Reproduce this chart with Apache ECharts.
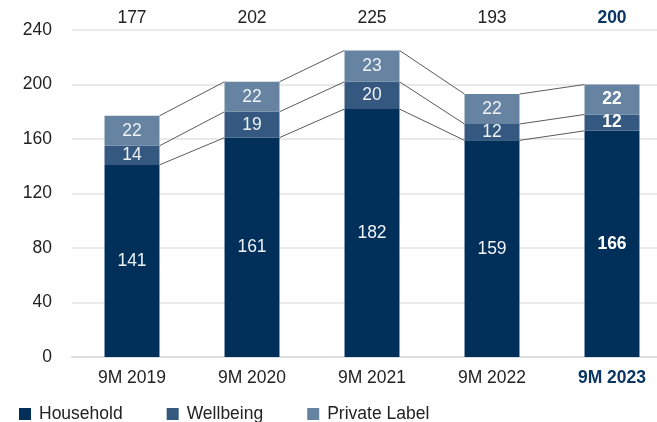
<!DOCTYPE html>
<html>
<head>
<meta charset="utf-8">
<script src="https://cdn.jsdelivr.net/npm/echarts@6/dist/echarts.min.js"></script>
<style>
  html, body { margin: 0; padding: 0; background: #fff; }
  #chart { width: 657px; height: 422px; }
</style>
</head>
<body>
<div id="chart"></div>
<script>
const categories = ["9M 2019", "9M 2020", "9M 2021", "9M 2022", "9M 2023"];
const household = [141, 161, 182, 159, 166];
const wellbeing = [14, 19, 20, 12, 12];
const privateLabel = [22, 22, 23, 22, 22];
const totals = [177, 202, 225, 193, 200];

const navy = "#00305a";
const mid = "#34587f";
const light = "#6684a1";
const font = "Liberation Sans, Arial, sans-serif";
const fs = 17.5;
const last = categories.length - 1;
const barRatio = 55 / 120;

const chart = echarts.init(document.getElementById("chart"));

// cumulative levels for the connector lines between bars
const levels = [
  household,
  household.map((v, i) => v + wellbeing[i]),
  household.map((v, i) => v + wellbeing[i] + privateLabel[i]),
];

function segLabel(i) {
  return {
    show: true,
    position: "inside",
    fontFamily: font,
    fontSize: fs,
    color: i === last ? "#ffffff" : "#eef2f6",
    fontWeight: i === last ? "bold" : "normal",
  };
}

function barSeries(name, values, color) {
  return {
    name,
    type: "bar",
    stack: "total",
    barWidth: "45.8%",
    itemStyle: { color },
    z: 3,
    data: values.map((v, i) => ({ value: v, label: segLabel(i) })),
  };
}

const boldRich = { b: { fontSize: fs, fontWeight: "bold", color: "#0b3563", fontFamily: font } };

const option = {
  animation: false,
  textStyle: { fontFamily: font },
  grid: { left: 72, width: 600, top: 30, bottom: 65, containLabel: false, outerBoundsMode: "none" },
  legend: {
    left: 14,
    top: 400,
    icon: "rect",
    itemWidth: 12,
    itemHeight: 12,
    itemGap: 44,
    textStyle: { fontSize: fs, color: "#222", fontFamily: font, padding: [0, 0, 0, 3] },
    data: ["Household", "Wellbeing", "Private Label"],
  },
  xAxis: [
    {
      type: "category",
      data: categories,
      axisLine: { lineStyle: { color: "#dddddd", width: 2 } },
      axisTick: { show: false },
      axisLabel: {
        interval: 0,
        margin: 12,
        fontSize: fs,
        color: "#222",
        fontFamily: font,
        formatter: (v, i) => (i === last ? "{b|" + v + "}" : v),
        rich: boldRich,
      },
    },
    {
      type: "category",
      position: "top",
      data: totals.map(String),
      axisLine: { show: false },
      axisTick: { show: false },
      axisLabel: {
        interval: 0,
        margin: 3,
        fontSize: fs,
        color: "#222",
        fontFamily: font,
        formatter: (v, i) => (i === last ? "{b|" + v + "}" : v),
        rich: boldRich,
      },
    },
  ],
  yAxis: {
    type: "value",
    min: 0,
    max: 240,
    interval: 40,
    axisLine: { show: false },
    axisTick: { show: false },
    splitLine: { lineStyle: { color: "#e3e3e3", width: 1.5 } },
    axisLabel: { margin: 20, fontSize: fs, color: "#222", fontFamily: font },
  },
  series: [
    barSeries("Household", household, navy),
    barSeries("Wellbeing", wellbeing, mid),
    barSeries("Private Label", privateLabel, light),
    {
      type: "custom",
      name: "connectors",
      z: 2,
      silent: true,
      data: categories.slice(0, last).map((c, i) => [i]),
      renderItem: (params, api) => {
        const i = api.value(0);
        const half = (api.size([1, 0])[0] * barRatio) / 2;
        const children = levels.map((lv) => {
          const a = api.coord([i, lv[i]]);
          const b = api.coord([i + 1, lv[i + 1]]);
          return {
            type: "line",
            shape: { x1: a[0] + half, y1: a[1], x2: b[0] - half, y2: b[1] },
            style: { stroke: "#5a5a5a", lineWidth: 1 },
          };
        });
        return { type: "group", children };
      },
    },
  ],
};

chart.setOption(option);
</script>
</body>
</html>
